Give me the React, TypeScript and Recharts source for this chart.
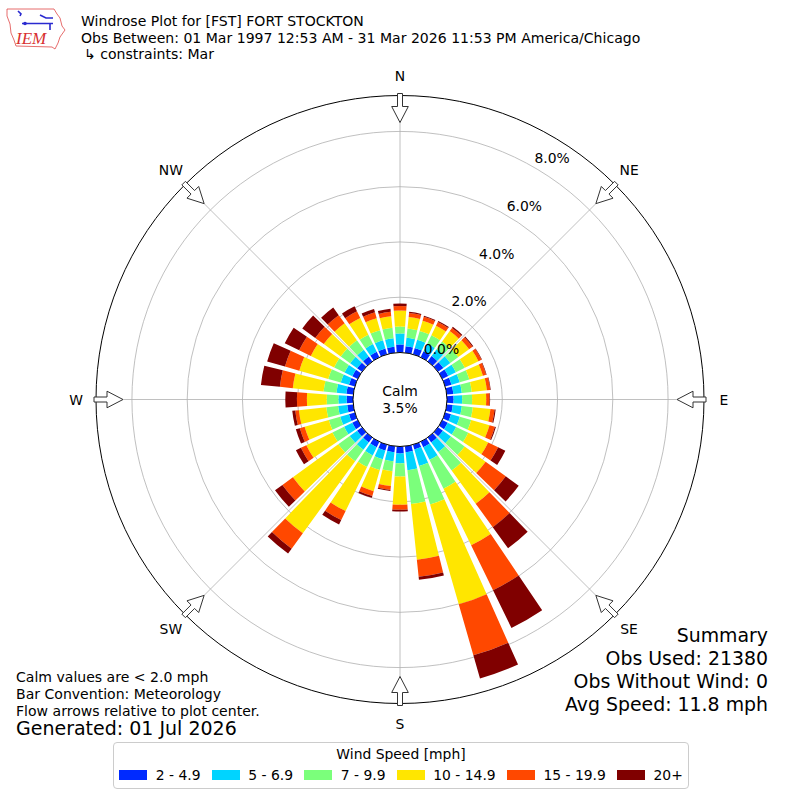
import React from 'react'
import {
  RadialBarChart, RadialBar, PolarAngleAxis, PolarRadiusAxis, PolarGrid
} from 'recharts'

// wind direction (degrees, meteorological) of each 10 degree sector
const DIRECTIONS = [
  0, 10, 20, 30, 40, 50, 60, 70, 80, 90, 100, 110,
  120, 130, 140, 150, 160, 170, 180, 190, 200, 210, 220, 230,
  240, 250, 260, 270, 280, 290, 300, 310, 320, 330, 340, 350
]

const BIN_LABELS = ['2 - 4.9', '5 - 6.9', '7 - 9.9', '10 - 14.9', '15 - 19.9', '20+']
const BIN_COLORS = ['#002aff', '#00d4ff', '#7bff7b', '#ffe600', '#ff4800', '#800000']

// frequency (%) per sector for each speed bin
const SPEED_2_5 = [
  0.29, 0.24, 0.24, 0.24, 0.24, 0.24, 0.24, 0.24, 0.24, 0.24, 0.22, 0.22,
  0.22, 0.22, 0.22, 0.22, 0.18, 0.22, 0.25, 0.22, 0.22, 0.22, 0.22, 0.22,
  0.22, 0.22, 0.22, 0.23, 0.25, 0.22, 0.22, 0.22, 0.22, 0.22, 0.22, 0.22
]
const SPEED_5_7 = [
  0.40, 0.31, 0.31, 0.31, 0.31, 0.31, 0.31, 0.31, 0.31, 0.31, 0.33, 0.33,
  0.34, 0.36, 0.43, 0.51, 0.62, 0.65, 0.36, 0.33, 0.33, 0.33, 0.33, 0.33,
  0.33, 0.33, 0.33, 0.30, 0.36, 0.31, 0.31, 0.31, 0.31, 0.31, 0.31, 0.31
]
const SPEED_7_10 = [
  0.25, 0.33, 0.33, 0.34, 0.34, 0.36, 0.36, 0.36, 0.36, 0.36, 0.40, 0.43,
  0.49, 0.61, 0.83, 1.16, 1.45, 1.23, 0.48, 0.36, 0.40, 0.47, 0.51, 0.51,
  0.47, 0.43, 0.43, 0.42, 0.47, 0.47, 0.42, 0.42, 0.42, 0.38, 0.38, 0.38
]
const SPEED_10_15 = [
  0.58, 0.42, 0.38, 0.38, 0.47, 0.48, 0.55, 0.51, 0.55, 0.51, 0.64, 0.69,
  0.80, 0.94, 1.48, 2.28, 3.76, 2.03, 1.02, 0.54, 0.80, 1.77, 3.22, 2.03,
  1.05, 0.91, 1.00, 0.72, 1.12, 1.09, 0.94, 0.76, 0.76, 0.67, 0.45, 0.42
]
const SPEED_15_20 = [
  0.16, 0.15, 0.15, 0.15, 0.14, 0.15, 0.12, 0.12, 0.12, 0.12, 0.15, 0.20,
  0.40, 0.90, 1.05, 1.81, 1.92, 0.62, 0.18, 0.14, 0.18, 0.36, 0.69, 0.47,
  0.22, 0.18, 0.13, 0.36, 0.47, 0.54, 0.47, 0.38, 0.36, 0.27, 0.22, 0.16
]
const SPEED_20_UP = [
  0.09, 0.04, 0.04, 0.04, 0.05, 0.04, 0.02, 0.02, 0.02, 0.02, 0.04, 0.04,
  0.29, 0.58, 0.94, 1.52, 0.87, 0.11, 0.06, 0.04, 0.07, 0.18, 0.22, 0.33,
  0.20, 0.15, 0.11, 0.42, 0.69, 0.67, 0.58, 0.58, 0.34, 0.20, 0.13, 0.11
]
const BIN_SERIES = [SPEED_2_5, SPEED_5_7, SPEED_7_10, SPEED_10_15, SPEED_15_20, SPEED_20_UP]

const RING_TICKS = [0, 2, 4, 6, 8]
const COMPASS_NAMES = ['N', 'NE', 'E', 'SE', 'S', 'SW', 'W', 'NW']
const COMPASS_DEGREES = [0, 45, 90, 135, 180, 225, 270, 315]

const CALM_PCT = 3.5
const TITLE_LINES = [
  'Windrose Plot for [FST] FORT STOCKTON',
  'Obs Between: 01 Mar 1997 12:53 AM - 31 Mar 2026 11:53 PM America/Chicago',
  '\u21B3 constraints: Mar'
]
const NOTES = [
  'Calm values are < 2.0 mph',
  'Bar Convention: Meteorology',
  'Flow arrows relative to plot center.'
]
const SUMMARY = ['Summary', 'Obs Used: 21380', 'Obs Without Wind: 0', 'Avg Speed: 11.8 mph']

const data = DIRECTIONS.map((dir, i) => {
  const row: Record<string, number | string> = { dir: String(dir) }
  BIN_SERIES.forEach((s, k) => { row[`b${k}`] = s[i] })
  return row
})

const FONT = '"DejaVu Sans", sans-serif'
const CX = 400
const CY = 399.5
const R_IN = 47
const R_OUT = 304
const R_MAX = 9.3

// point at radius r along compass heading h, shifted t px sideways
const polar = (h: number, r: number, t = 0) => {
  const a = (h * Math.PI) / 180
  return [CX + r * Math.sin(a) + t * Math.cos(a), CY - r * Math.cos(a) + t * Math.sin(a)]
}

const RingTick = (props: any) => {
  const { x, y, payload } = props
  return (
    <text x={x + 18} y={y - 9.5} textAnchor="middle" dominantBaseline="central"
      fontSize={13.9} fill="#000" fontFamily={FONT}>
      {Number(payload.value).toFixed(1)}%
    </text>
  )
}

const Overlay = () => {
  const arrow = (h: number) => {
    const pts = [
      polar(h, 306, -2.5), polar(h, 293, -2.5), polar(h, 293, -8.3),
      polar(h, 277, 0), polar(h, 293, 8.3), polar(h, 293, 2.5), polar(h, 306, 2.5)
    ]
    return pts.map(p => p.join(',')).join(' ')
  }
  return (
    <svg width={800} height={800} style={{ position: 'absolute', left: 0, top: 0, pointerEvents: 'none' }}
      fontFamily={FONT}>
      <circle cx={CX} cy={CY} r={R_OUT} fill="none" stroke="#000" strokeWidth={1} />
      {COMPASS_DEGREES.map((h, i) => {
        const [lx, ly] = polar(h, 324)
        return (
          <g key={h}>
            <polygon points={arrow(h)} fill="#fff" stroke="#333" strokeWidth={1} />
            <text x={lx} y={ly} textAnchor="middle" dominantBaseline="central" fontSize={13.9}>
              {COMPASS_NAMES[i]}
            </text>
          </g>
        )
      })}
      <circle cx={CX} cy={CY} r={R_IN} fill="#fff" stroke="#000" strokeWidth={1} />
      <text x={CX} y={CY - 9} textAnchor="middle" dominantBaseline="central" fontSize={13.9}>Calm</text>
      <text x={CX} y={CY + 8} textAnchor="middle" dominantBaseline="central" fontSize={13.9}>
        {CALM_PCT.toFixed(1)}%
      </text>

      {/* IEM logo */}
      <path d="M7,9 L54,9 L57,14 L60,18 L62,26 L65,30 L60,37 L58,43 L55,49 L52,47 L16,46 L14,40 L11,33 L10,24 L7,16 Z"
        fill="none" stroke="#e04848" strokeWidth={0.8} />
      <path d="M18,11 L21,14 L20,16 M22,23.5 L53,23.5 M40,15 L46,18 L53,18 M50,23.5 L50,30"
        fill="none" stroke="#2a2ad0" strokeWidth={1.6} />
      <circle cx={25} cy={23.5} r={1.8} fill="#2a2ad0" />
      <text x={16} y={44} fontSize={17} fontStyle="italic" fontFamily="'Liberation Serif', serif" fill="#d83030">IEM</text>

      {TITLE_LINES.map((t, i) => (
        <text key={t} x={i === 2 ? 84 : 81} y={26 + i * 16.7} fontSize={14.05}>{t}</text>
      ))}
      {NOTES.map((t, i) => (
        <text key={t} x={16} y={681.5 + i * 17} fontSize={14.05}>{t}</text>
      ))}
      <text x={16} y={735} fontSize={19}>Generated: 01 Jul 2026</text>
      {SUMMARY.map((t, i) => (
        <text key={t} x={768} y={641.5 + i * 23.3} fontSize={18.9} textAnchor="end">{t}</text>
      ))}
    </svg>
  )
}

const SpeedLegend = () => (
  <div style={{
    position: 'absolute', left: 113, top: 742, width: 574, height: 45,
    border: '1px solid #cccccc', borderRadius: 4, background: '#fff', fontFamily: FONT, fontSize: 13.9
  }}>
    <div style={{ position: 'absolute', top: 2, width: '100%', textAlign: 'center', lineHeight: '18px' }}>
      Wind Speed [mph]
    </div>
    <div style={{
      position: 'absolute', top: 23, width: '100%', height: 18,
      display: 'flex', justifyContent: 'center', alignItems: 'center'
    }}>
      {BIN_LABELS.map((label, i) => (
        <div key={label} style={{ display: 'flex', alignItems: 'center', marginRight: i < BIN_LABELS.length - 1 ? 11 : 0 }}>
          <span style={{ display: 'inline-block', width: 28, height: 10, background: BIN_COLORS[i], marginRight: 8.7 }} />
          <span style={{ lineHeight: '18px' }}>{label}</span>
        </div>
      ))}
    </div>
  </div>
)

const App = () => {
  return (
    <div style={{ position: 'absolute', left: 0, top: 0, width: 800, height: 800, background: '#fff', fontFamily: FONT }}>
      <RadialBarChart
        width={800}
        height={800}
        data={data}
        cx={CX}
        cy={CY}
        innerRadius={R_IN}
        outerRadius={R_OUT}
        startAngle={85}
        endAngle={-275}
        layout="centric"
        barCategoryGap="10%"
        margin={{ top: 0, right: 0, bottom: 0, left: 0 }}
      >
        <PolarGrid
          gridType="circle"
          stroke="#b0b0b0"
          strokeWidth={0.8}
          polarAngles={COMPASS_DEGREES.map(h => 90 - h)}
        />
        <PolarAngleAxis dataKey="dir" type="category" tick={false} tickLine={false} axisLine={false} />
        <PolarRadiusAxis
          type="number"
          scale="linear"
          domain={[0, R_MAX]}
          ticks={RING_TICKS}
          allowDataOverflow
          angle={60}
          axisLine={false}
          tick={<RingTick />}
        />
        {BIN_LABELS.map((label, k) => (
          <RadialBar
            key={label}
            dataKey={`b${k}`}
            name={label}
            stackId="speed"
            fill={BIN_COLORS[k]}
            isAnimationActive={false}
          />
        ))}
      </RadialBarChart>
      <Overlay />
      <SpeedLegend />
    </div>
  )
}

export default App
